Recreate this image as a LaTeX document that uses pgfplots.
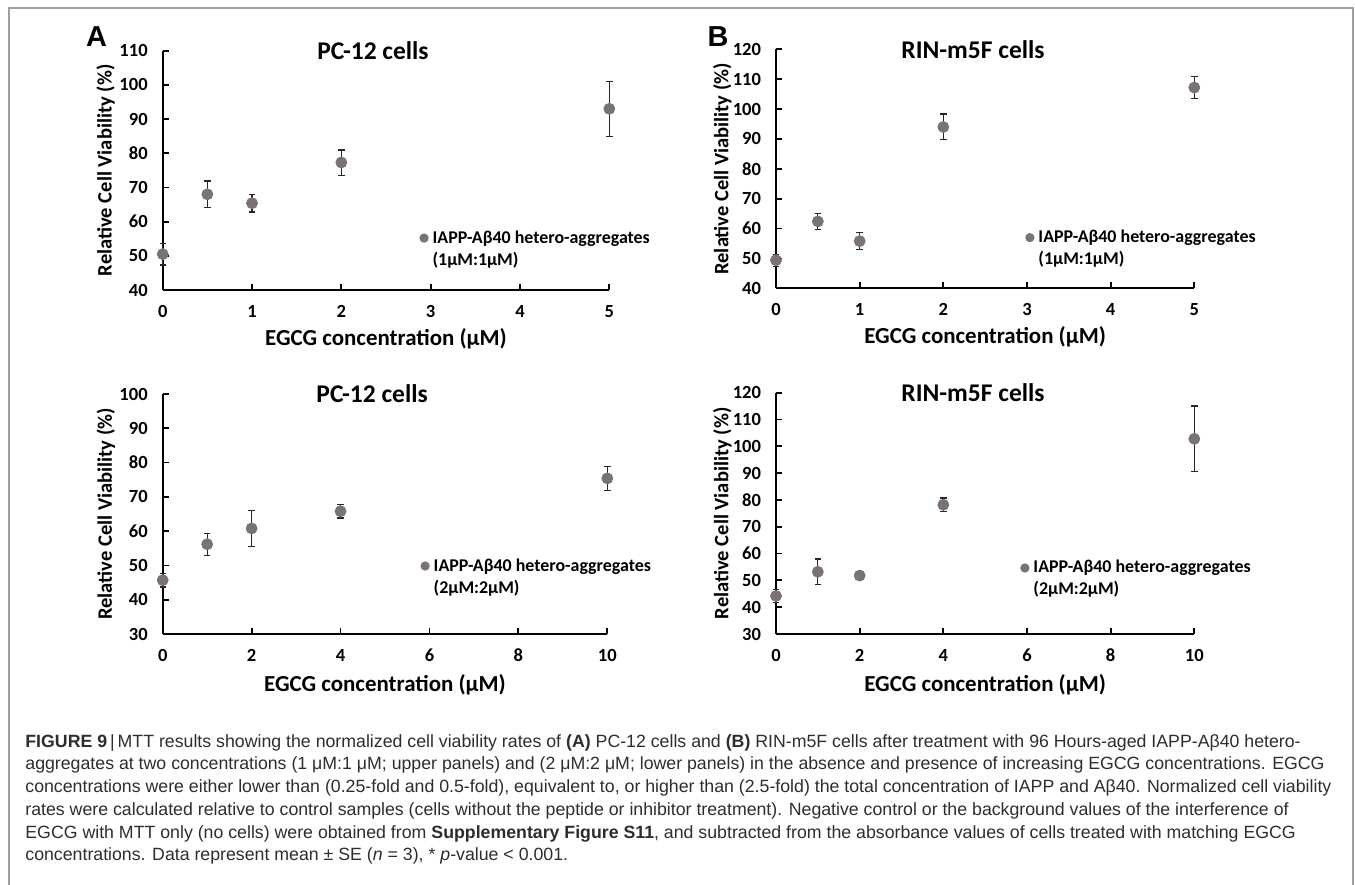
\documentclass[border=0pt]{standalone}
\usepackage{fontspec}
\setmainfont{Carlito}
\newfontfamily\capfont{Liberation Sans}
\usepackage{pgfplots}
\pgfplotsset{compat=1.18}
\definecolor{dotgray}{RGB}{122,114,118}
\definecolor{capgray}{RGB}{45,45,45}

\pgfplotsset{
  mttaxis/.style={
    scale only axis, anchor=south west, clip=false,
    axis lines=left, axis line style={-, line width=0.9bp},
    tick align=inside, major tick length=3bp,
    every tick/.style={black, line width=0.9bp},
    /pgf/number format/assume math mode=true,
    tick label style={font=\bfseries\fontsize{9.3}{10}\selectfont},
    xticklabel shift=4bp, yticklabel shift=4bp,
    xlabel={EGCG concentration (μM)},
    ylabel={Relative Cell Viability (\%)},
    xlabel style={font=\bfseries\fontsize{11.5}{13}\selectfont, at={(axis description cs:0.5,0)}, anchor=center},
    ylabel style={font=\bfseries\fontsize{10.3}{12}\selectfont, at={(axis description cs:-0.128,0.5)}, anchor=center},
    every axis title shift=0pt,
    title style={font=\bfseries\fontsize{12.8}{14}\selectfont, at={(0.471,1)}, anchor=center},
    legend style={draw=none, fill=none, anchor=west, inner sep=0pt, row sep=0pt, column sep=1bp,
      font=\bfseries\fontsize{9}{10}\selectfont,
      nodes={inner sep=1bp, text height=7bp, text depth=2bp}},
    legend cell align=left,
    legend image code/.code={\fill[dotgray] (0bp,0bp) circle (2.1bp);},
  },
  dots/.style={only marks, mark=*, mark size=2.75bp, color=dotgray,
    error bars/.cd, y dir=both, y explicit,
    error bar style={line width=0.65bp, black!85},
    error mark options={rotate=90, mark size=1.6bp, line width=0.65bp, black!85}},
}

\begin{document}
\begin{tikzpicture}
\useasboundingbox (0,0) rectangle (677.5bp,-442.5bp);
\draw[gray!75, line width=0.8bp] (4.5bp,-443bp) -- (4.5bp,-4bp) -- (676.5bp,-4bp) -- (676.5bp,-443bp);

% A, upper: 1uM:1uM
\begin{axis}[mttaxis, at={(81.35bp,-145bp)}, width=223.3bp, height=119.65bp,
  xmin=0, xmax=5, ymin=40, ymax=110, xtick={0,...,5}, ytick={40,50,...,110},
  title={PC-12 cells}, xlabel style={yshift=-24.2bp},
  legend style={at={(0.574,0.171)}}]
\addplot[dots] coordinates {(0,50.5) +- (0,3.2) (0.5,68.0) +- (0,3.9) (1,65.4) +- (0,2.6) (2,77.3) +- (0,3.7) (5,93.0) +- (0,8.0)};
\addlegendentry{IAPP-Aβ40 hetero-aggregates}
\addlegendimage{empty legend}
\addlegendentry{(1μM:1μM)}
\end{axis}

% B, upper
\begin{axis}[mttaxis, at={(388bp,-144.15bp)}, width=209.15bp, height=119.5bp,
  xmin=0, xmax=5, ymin=40, ymax=120, xtick={0,...,5}, ytick={40,50,...,120},
  title={RIN-m5F cells}, xlabel style={yshift=-24.2bp},
  legend style={at={(0.595,0.166)}}]
\addplot[dots] coordinates {(0,49.4) +- (0,2.0) (0.5,62.4) +- (0,2.7) (1,55.8) +- (0,2.8) (2,94.0) +- (0,4.3) (5,107.2) +- (0,3.6)};
\addlegendentry{IAPP-Aβ40 hetero-aggregates}
\addlegendimage{empty legend}
\addlegendentry{(1μM:1μM)}
\end{axis}

% A, lower: 2uM:2uM
\begin{axis}[mttaxis, at={(81.35bp,-317bp)}, width=222.3bp, height=120bp,
  xmin=0, xmax=10, ymin=30, ymax=100, xtick={0,2,...,10}, ytick={30,40,...,100},
  title={PC-12 cells}, xlabel style={yshift=-25.5bp},
  legend style={at={(0.579,0.2375)}}]
\addplot[dots] coordinates {(0,45.7) +- (0,2.0) (1,56.2) +- (0,3.2) (2,60.8) +- (0,5.2) (4,65.8) +- (0,2.0) (10,75.4) +- (0,3.5)};
\addlegendentry{IAPP-Aβ40 hetero-aggregates}
\addlegendimage{empty legend}
\addlegendentry{(2μM:2μM)}
\end{axis}

% B, lower
\begin{axis}[mttaxis, at={(388bp,-317bp)}, width=209.15bp, height=120.65bp,
  xmin=0, xmax=10, ymin=30, ymax=120, xtick={0,2,...,10}, ytick={30,40,...,120},
  title={RIN-m5F cells}, xlabel style={yshift=-25.5bp},
  legend style={at={(0.583,0.228)}}]
\addplot[dots] coordinates {(0,44.2) +- (0,2.5) (1,53.2) +- (0,4.8) (2,51.8) +- (0,0.8) (4,78.2) +- (0,2.5) (10,102.8) +- (0,12.3)};
\addlegendentry{IAPP-Aβ40 hetero-aggregates}
\addlegendimage{empty legend}
\addlegendentry{(2μM:2μM)}
\end{axis}

\node[font=\capfont\bfseries\fontsize{14.5}{16}\selectfont] at (48.3bp,-18.3bp) {A};
\node[font=\capfont\bfseries\fontsize{14.5}{16}\selectfont] at (359bp,-18.5bp) {B};

\node[anchor=north west, align=left, inner sep=0pt, text=capgray,
  font=\capfont\fontsize{8.9}{11.4}\selectfont] at (12.5bp,-367bp) {%
\textbf{FIGURE 9}\,|\,MTT results showing the normalized cell viability rates of \textbf{(A)} PC-12 cells and \textbf{(B)} RIN-m5F cells after treatment with 96 Hours-aged IAPP-Aβ40 hetero-\\
aggregates at two concentrations (1 μM:1 μM; upper panels) and (2 μM:2 μM; lower panels) in the absence and presence of increasing EGCG concentrations. EGCG\\
concentrations were either lower than (0.25-fold and 0.5-fold), equivalent to, or higher than (2.5-fold) the total concentration of IAPP and Aβ40. Normalized cell viability\\
rates were calculated relative to control samples (cells without the peptide or inhibitor treatment). Negative control or the background values of the interference of\\
EGCG with MTT only (no cells) were obtained from \textbf{Supplementary Figure S11}, and subtracted from the absorbance values of cells treated with matching EGCG\\
concentrations. Data represent mean ± SE (\textit{n} = 3), * \textit{p}-value < 0.001.};
\end{tikzpicture}
\end{document}
